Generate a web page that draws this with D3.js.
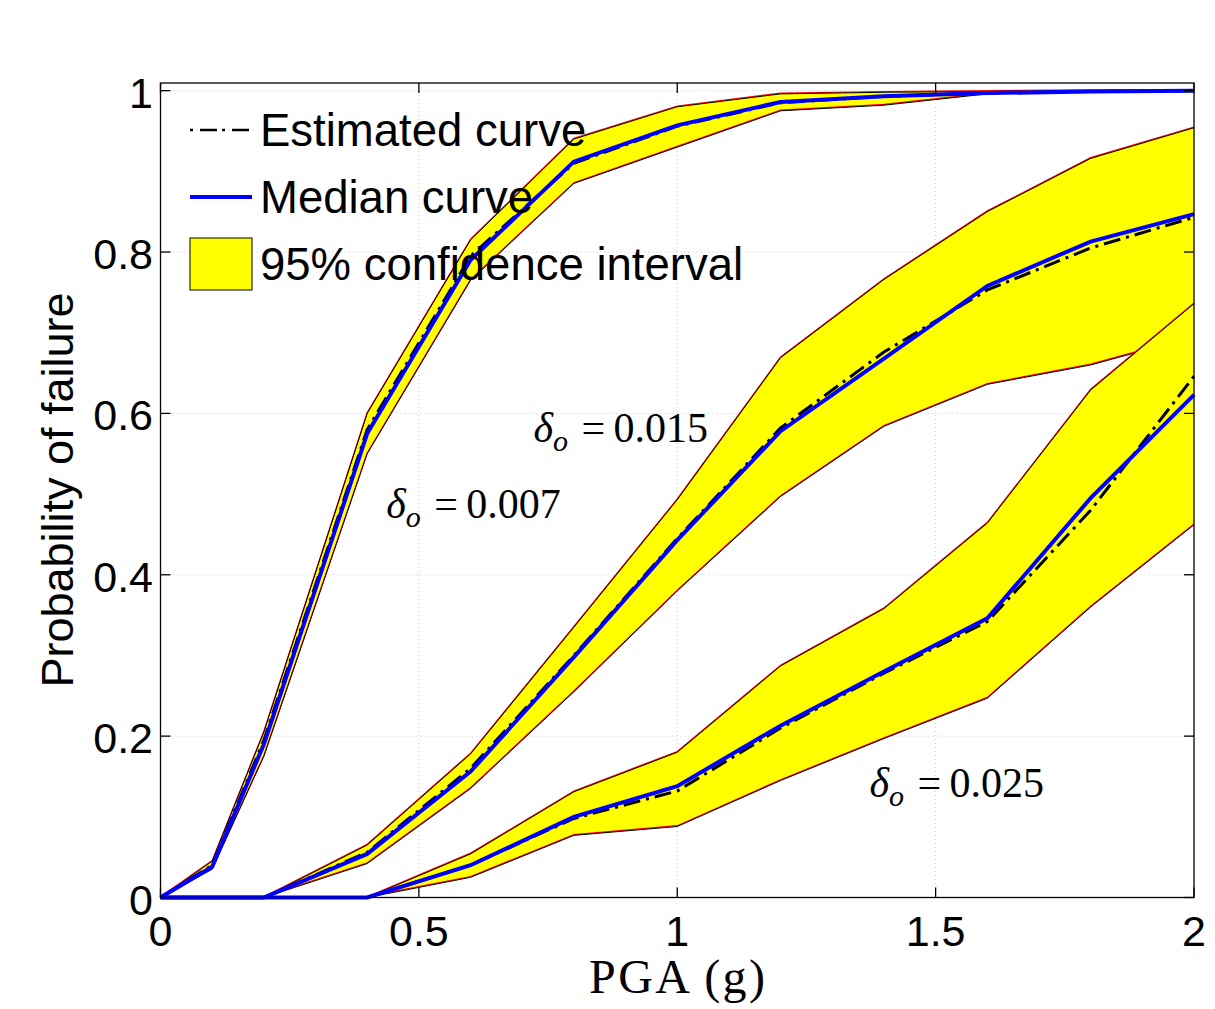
<!DOCTYPE html>
<html>
<head>
<meta charset="utf-8">
<script src="https://cdn.jsdelivr.net/npm/d3@7"></script>
<style>
html, body { margin: 0; padding: 0; background: #fff; }
</style>
</head>
<body>
<div id="canvas"></div>
<script>
// ----------------------------------------------------------
// DATA -----------------------------------------------------
// ----------------------------------------------------------
var pga = [0, 0.1, 0.2, 0.4, 0.6, 0.8, 1.0, 1.2, 1.4, 1.6, 1.8, 2.0];

// delta_o = 0.007
var median_007 = [0, 0.038, 0.19, 0.575, 0.79, 0.912, 0.957, 0.986, 0.993, 0.997, 0.999, 1.0];
var estimated_007 = [0, 0.040, 0.195, 0.580, 0.795, 0.910, 0.956, 0.985, 0.993, 0.997, 0.999, 1.0];
var upper_007 = [0, 0.045, 0.205, 0.600, 0.815, 0.940, 0.980, 0.996, 0.998, 0.999, 1.0, 1.0];
var lower_007 = [0, 0.035, 0.175, 0.550, 0.765, 0.885, 0.930, 0.975, 0.982, 0.996, 0.999, 1.0];

// delta_o = 0.015
var median_015 = [0, 0, 0, 0.054, 0.156, 0.298, 0.443, 0.578, 0.668, 0.758, 0.813, 0.847];
var estimated_015 = [0, 0, 0, 0.056, 0.160, 0.300, 0.445, 0.582, 0.676, 0.753, 0.805, 0.843];
var upper_015 = [0, 0, 0, 0.065, 0.178, 0.335, 0.493, 0.669, 0.766, 0.850, 0.916, 0.954];
var lower_015 = [0, 0, 0, 0.042, 0.135, 0.255, 0.380, 0.497, 0.584, 0.636, 0.660, 0.695];

// delta_o = 0.025
var median_025 = [0, 0, 0, 0, 0.040, 0.100, 0.138, 0.213, 0.280, 0.346, 0.495, 0.623];
var estimated_025 = [0, 0, 0, 0, 0.040, 0.098, 0.132, 0.210, 0.278, 0.342, 0.480, 0.646];
var upper_025 = [0, 0, 0, 0, 0.054, 0.131, 0.180, 0.287, 0.358, 0.464, 0.629, 0.736];
var lower_025 = [0, 0, 0, 0, 0.025, 0.077, 0.088, 0.145, 0.197, 0.247, 0.360, 0.462];

var x_ticks = [0, 0.5, 1, 1.5, 2];
var y_ticks = [0, 0.2, 0.4, 0.6, 0.8, 1];

var legend_labels = ["Estimated curve", "Median curve", "95% confidence interval"];
var text_x_label = "PGA (g)";
var text_y_label = "Probability of failure";

// one entry per curve set, built from the arrays above
var curve_sets = [
{name: "0.007", median: median_007, estimated: estimated_007, upper: upper_007, lower: lower_007, label_x: 0.437, label_y: 0.470},
{name: "0.015", median: median_015, estimated: estimated_015, upper: upper_015, lower: lower_015, label_x: 0.722, label_y: 0.564},
{name: "0.025", median: median_025, estimated: estimated_025, upper: upper_025, lower: lower_025, label_x: 1.372, label_y: 0.124}
];

// ----------------------------------------------------------
// STRUCTURE ------------------------------------------------
// ----------------------------------------------------------
var W = 1215, H = 1009;
var plot = {left: 160.5, right: 1194, top: 83, bottom: 897.5};

var svg = d3.select("#canvas").append("svg")
.attr("width", W)
.attr("height", H)
.style("background", "#fff");

var grid_group = svg.append("g").attr("class", "grid_group");
var gfx_group = svg.append("g").attr("class", "gfx_group");
var axis_group = svg.append("g").attr("class", "axis_group");
var legend_group = svg.append("g").attr("class", "legend_group");
var text_group = svg.append("g").attr("class", "text_group");

// ----------------------------------------------------------
// SCALES ---------------------------------------------------
// ----------------------------------------------------------
var xScale = d3.scaleLinear()
.domain([0, 2])
.range([plot.left, plot.right]);

var yScale = d3.scaleLinear()
.domain([0, 1.0095])
.range([plot.bottom, plot.top]);

// ----------------------------------------------------------
// GRID -----------------------------------------------------
// ----------------------------------------------------------
grid_group.selectAll(".grid_x")
.data(x_ticks.slice(1, -1))
.enter().append("line")
.attr("x1", d => xScale(d)).attr("x2", d => xScale(d))
.attr("y1", plot.top).attr("y2", plot.bottom)
.style("stroke", "#c8c8c8").style("stroke-width", 1).style("stroke-dasharray", "1,3");

grid_group.selectAll(".grid_y")
.data(y_ticks.slice(1))
.enter().append("line")
.attr("x1", plot.left).attr("x2", plot.right)
.attr("y1", d => yScale(d)).attr("y2", d => yScale(d))
.style("stroke", "#c8c8c8").style("stroke-width", 1).style("stroke-dasharray", "1,3");

// ----------------------------------------------------------
// GFX ------------------------------------------------------
// ----------------------------------------------------------
var area = d3.area()
.x(d => xScale(d.x))
.y0(d => yScale(d.lo))
.y1(d => yScale(d.hi));

var line = d3.line()
.x(d => xScale(d.x))
.y(d => yScale(d.y));

curve_sets.forEach(function(c) {
var band = pga.map((x, i) => ({x: x, lo: c.lower[i], hi: c.upper[i]}));
var g = gfx_group.append("g").attr("class", "curve_" + c.name);

// yellow band
g.append("path")
.datum(band)
.attr("d", area)
.style("fill", "#ffff00").style("stroke", "none");

// bound lines: red under, black on top
[c.upper, c.lower].forEach(function(b) {
var pts = pga.map((x, i) => ({x: x, y: b[i]}));
g.append("path").datum(pts).attr("d", line)
.attr("transform", "translate(0,-0.8)")
.style("fill", "none").style("stroke", "#ff0000").style("stroke-width", 1.2);
g.append("path").datum(pts).attr("d", line)
.style("fill", "none").style("stroke", "#000").style("stroke-width", 1);
});

// estimated curve
g.append("path")
.datum(pga.map((x, i) => ({x: x, y: c.estimated[i]})))
.attr("d", line)
.style("fill", "none").style("stroke", "#000").style("stroke-width", 3)
.style("stroke-dasharray", "17,6,3,6");

// median curve
g.append("path")
.datum(pga.map((x, i) => ({x: x, y: c.median[i]})))
.attr("d", line)
.style("fill", "none").style("stroke", "#0000ff").style("stroke-width", 4);
});

// ----------------------------------------------------------
// AXES -----------------------------------------------------
// ----------------------------------------------------------
var tick_len = 10;

axis_group.append("rect")
.attr("x", plot.left).attr("y", plot.top)
.attr("width", plot.right - plot.left).attr("height", plot.bottom - plot.top)
.style("fill", "none").style("stroke", "#000").style("stroke-width", 1.3);

// ticks on all four sides, pointing inward
x_ticks.forEach(function(t) {
axis_group.append("line")
.attr("x1", xScale(t)).attr("x2", xScale(t))
.attr("y1", plot.bottom).attr("y2", plot.bottom - tick_len)
.style("stroke", "#000").style("stroke-width", 1.3);
axis_group.append("line")
.attr("x1", xScale(t)).attr("x2", xScale(t))
.attr("y1", plot.top).attr("y2", plot.top + tick_len)
.style("stroke", "#000").style("stroke-width", 1.3);
});
y_ticks.forEach(function(t) {
axis_group.append("line")
.attr("x1", plot.left).attr("x2", plot.left + tick_len)
.attr("y1", yScale(t)).attr("y2", yScale(t))
.style("stroke", "#000").style("stroke-width", 1.3);
axis_group.append("line")
.attr("x1", plot.right).attr("x2", plot.right - tick_len)
.attr("y1", yScale(t)).attr("y2", yScale(t))
.style("stroke", "#000").style("stroke-width", 1.3);
});

// tick labels
axis_group.selectAll(".x_label")
.data(x_ticks)
.enter().append("text")
.attr("x", d => xScale(d))
.attr("y", 946)
.attr("text-anchor", "middle")
.style("font-family", "'Liberation Sans', Arial, sans-serif")
.style("font-size", "43px")
.text(d => d3.format("")(d));

axis_group.selectAll(".y_label")
.data(y_ticks)
.enter().append("text")
.attr("x", 153)
.attr("y", d => yScale(d) + 17)
.attr("text-anchor", "end")
.style("font-family", "'Liberation Sans', Arial, sans-serif")
.style("font-size", "43px")
.text(d => d3.format("")(d));

// axis titles
text_group.append("text")
.attr("x", 677)
.attr("y", 993)
.attr("text-anchor", "middle")
.style("font-family", "'Liberation Serif', 'Times New Roman', serif")
.style("font-size", "48px")
.attr("textLength", 176)
.text(text_x_label);

text_group.append("text")
.attr("transform", "translate(73,490) rotate(-90)")
.attr("text-anchor", "middle")
.style("font-family", "'Liberation Sans', Arial, sans-serif")
.style("font-size", "45px")
.text(text_y_label);

// ----------------------------------------------------------
// LEGEND ---------------------------------------------------
// ----------------------------------------------------------
var legend_y = [130, 197, 264];
var lx0 = 190, lx1 = 252;

legend_group.append("line")
.attr("x1", lx0).attr("x2", lx1).attr("y1", legend_y[0]).attr("y2", legend_y[0])
.style("stroke", "#000").style("stroke-width", 2.5).style("stroke-dasharray", "3,7,17,5");

legend_group.append("line")
.attr("x1", lx0).attr("x2", lx1).attr("y1", legend_y[1]).attr("y2", legend_y[1])
.style("stroke", "#0000ff").style("stroke-width", 4);

legend_group.append("rect")
.attr("x", lx0).attr("y", 238).attr("width", lx1 - lx0).attr("height", 52)
.style("fill", "#ffff00").style("stroke", "#000").style("stroke-width", 1);

legend_group.selectAll(".legend_text")
.data(legend_labels)
.enter().append("text")
.attr("x", 260)
.attr("y", (d, i) => legend_y[i] + 16)
.style("font-family", "'Liberation Sans', Arial, sans-serif")
.style("font-size", "45.5px")
.text(d => d);

// ----------------------------------------------------------
// ANNOTATIONS ----------------------------------------------
// ----------------------------------------------------------
curve_sets.forEach(function(c) {
var x0 = xScale(c.label_x);
var y0 = yScale(c.label_y);
var t = text_group.append("text")
.attr("x", x0)
.attr("y", y0)
.style("font-family", "'Liberation Serif', 'Times New Roman', serif")
.style("font-size", "42px");
t.append("tspan").style("font-style", "italic").text("\u03b4");
t.append("tspan").attr("dy", 9).style("font-style", "italic").style("font-size", "30px").text("o");
t.append("tspan").attr("x", x0 + 48).attr("dy", -9).text("=");
t.append("tspan").attr("x", x0 + 80).text(c.name);
});
</script>
</body>
</html>
